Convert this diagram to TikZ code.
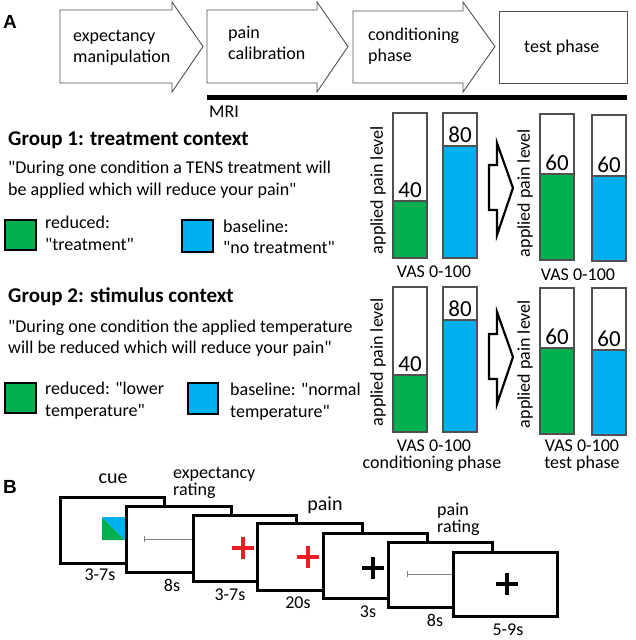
\documentclass[tikz,border=0pt]{standalone}
\usepackage{fontspec}
\setmainfont{Carlito}
\newfontfamily\panelfont{Liberation Sans}
\usetikzlibrary{positioning}
\definecolor{okgreen}{HTML}{00B050}
\definecolor{okblue}{HTML}{00B0F0}
\definecolor{crossred}{HTML}{EC1C24}
\definecolor{edgegray}{HTML}{505050}
\newcommand{\fs}[1]{\fontsize{#1}{#1}\selectfont}
\newcommand{\qt}{\textquotedbl}

\begin{document}
\begin{tikzpicture}[x=1pt,y=-1pt,inner sep=0pt,font=\fs{18}]
\tikzstyle{phase}=[draw=edgegray,line width=0.9pt,fill=white]
\tikzstyle{txt}=[anchor=base west]
\tikzstyle{grouphead}=[anchor=base west,font=\fs{21}\bfseries]
\tikzstyle{panel}=[font=\fs{19}\panelfont\bfseries]
\tikzstyle{keybox}=[draw=black,line width=2.6pt]
\tikzstyle{bar}=[draw=edgegray,line width=1.2pt]
\tikzstyle{num}=[anchor=south,inner sep=3.5pt,font=\fs{23}]
\tikzstyle{ylab}=[rotate=90]
\tikzstyle{hollow}=[draw=black,line width=2.2pt,fill=white,line join=miter]
\tikzstyle{screen}=[draw=black,line width=3pt,fill=white]
\tikzstyle{ratingline}=[draw=gray,line width=0.9pt]
\tikzstyle{fixcross}=[line width=4pt]
\tikzstyle{cuelab}=[font=\fs{20}]
\useasboundingbox (0,0) rectangle (636,640);

% panel A: order of the phases
\node[panel] (panA) at (10,22) {A};
\draw[phase] (60,10) -- (172,10) -- (172,2) -- (203,46.5) -- (172,92) -- (172,83) -- (60,83) -- cycle;
\draw[phase] (207,10) -- (317,10) -- (317,2) -- (348,46.5) -- (317,92) -- (317,83) -- (207,83) -- cycle;
\draw[phase] (353,11) -- (463,11) -- (463,2) -- (495,46.5) -- (463,92) -- (463,83) -- (353,83) -- cycle;
\draw[phase] (499,11) rectangle (627,83);
\node[txt] (expA) at (73,41.5) {expectancy};
\node[txt] (expB) at (73,62.5) {manipulation};
\node[txt] (calA) at (228,38) {pain};
\node[txt] (calB) at (228,59.5) {calibration};
\node[txt] (conA) at (368,40) {conditioning};
\node[txt] (conB) at (368,61.5) {phase};
\node[txt] (test) at (524,52) {test phase};
\draw[line width=5pt] (207,97.5) -- (627,97.5);
\node[txt] (mri) at (209,117) {MRI};

% group 1
\node[grouphead] (grpA) at (8,145) {Group 1: treatment context};
\node[txt] (quoA) at (8,173) {\qt During one condition a TENS treatment will};
\node[txt] (quoB) at (8,195) {be applied which will reduce your pain\qt};
\draw[keybox,fill=okgreen] (5,220) rectangle (36,250);
\node[txt] (redA) at (45,228) {reduced:};
\node[txt] (redB) at (45,250) {\qt treatment\qt};
\draw[keybox,fill=okblue] (182,220) rectangle (213,252);
\node[txt] (basA) at (223,232) {baseline:};
\node[txt] (basB) at (223,253) {\qt no treatment\qt};

\draw[bar] (393,113) rectangle (427,258);
\draw[bar,fill=okgreen] (393,201) rectangle (427,258);
\node[num] (n40a) at (410,201) {40};
\draw[bar] (443,113) rectangle (477,258);
\draw[bar,fill=okblue] (443,146) rectangle (477,258);
\node[num] (n80a) at (460,146) {80};
\node[ylab] (ylabA) at (378,190) {applied pain level};
\node (vasA) at (434,272) {VAS 0-100};
\draw[hollow] (489,165) -- (497,165) -- (497,143) -- (513,188) -- (497,235) -- (497,210) -- (489,210) -- cycle;
\draw[bar] (540,114) rectangle (574,260);
\draw[bar,fill=okgreen] (540,174) rectangle (574,260);
\node[num] (n60a) at (557,174) {60};
\draw[bar] (592,115) rectangle (626,261);
\draw[bar,fill=okblue] (592,176) rectangle (626,261);
\node[num] (n60b) at (609,176) {60};
\node[ylab] (ylabB) at (525,193) {applied pain level};
\node (vasB) at (578,275) {VAS 0-100};

% group 2
\node[grouphead] (grpB) at (8,302) {Group 2: stimulus context};
\node[txt] (quoC) at (8,332) {\qt During one condition the applied temperature};
\node[txt] (quoD) at (8,353) {will be reduced which will reduce your pain\qt};
\draw[keybox,fill=okgreen] (5,383) rectangle (36,413);
\node[txt] (redC) at (45,394) {reduced: \qt lower};
\node[txt] (redD) at (45,416) {temperature\qt};
\draw[keybox,fill=okblue] (188,383) rectangle (218,414);
\node[txt] (basC) at (230,395) {baseline: \qt normal};
\node[txt] (basD) at (230,417) {temperature\qt};

\draw[bar] (393,287) rectangle (427,432);
\draw[bar,fill=okgreen] (393,375) rectangle (427,432);
\node[num] (n40b) at (410,375) {40};
\draw[bar] (443,287) rectangle (477,432);
\draw[bar,fill=okblue] (443,320) rectangle (477,432);
\node[num] (n80b) at (460,320) {80};
\node[ylab] (ylabC) at (378,362) {applied pain level};
\node (vasC) at (434,446) {VAS 0-100};
\node (condC) at (432,464) {conditioning phase};
\draw[hollow] (489,334) -- (497,334) -- (497,312) -- (513,357) -- (497,404) -- (497,379) -- (489,379) -- cycle;
\draw[bar] (540,288) rectangle (574,434);
\draw[bar,fill=okgreen] (540,348) rectangle (574,434);
\node[num] (n60c) at (557,348) {60};
\draw[bar] (592,288) rectangle (626,435);
\draw[bar,fill=okblue] (592,350) rectangle (626,435);
\node[num] (n60d) at (609,350) {60};
\node[ylab] (ylabD) at (525,364) {applied pain level};
\node (vasD) at (582,446) {VAS 0-100};
\node (testD) at (582,464) {test phase};

% panel B: one trial
\node[panel] (panB) at (10,487) {B};
\draw[screen] (60,497) rectangle (164,563);
\fill[okgreen] (102,517) -- (102,540) -- (125,540) -- cycle;
\fill[okblue] (102,517) -- (125,517) -- (125,540) -- cycle;
\draw[screen] (126,506) rectangle (231,572);
\draw[ratingline] (144,539) -- (200,539);
\draw[ratingline] (144,536) -- (144,542);
\draw[screen] (193,515) rectangle (296,581);
\draw[fixcross,crossred] (232,548) -- (254,548) (243,537) -- (243,559);
\draw[screen] (257,523) rectangle (362,590);
\draw[fixcross,crossred] (297,557) -- (319,557) (308,546) -- (308,568);
\draw[screen] (323,533) rectangle (427,598);
\draw[fixcross] (362,568) -- (384,568) (373,557) -- (373,579);
\draw[screen] (388,542) rectangle (492,607);
\draw[ratingline] (407,574) -- (460,574);
\draw[ratingline] (407,571) -- (407,577);
\draw[screen] (453,552) rectangle (557,616);
\draw[fixcross] (496,584) -- (518,584) (507,573) -- (507,595);

\node[cuelab] (cue) at (113,479) {cue};
\node[txt] (expR) at (173,478) {expectancy};
\node[txt] (expS) at (173,495) {rating};
\node[cuelab] (pain) at (325,505) {pain};
\node[txt] (painR) at (437,515) {pain};
\node[txt] (painS) at (437,532) {rating};
\node (durA) at (100,575) {3-7s};
\node (durB) at (172,585) {8s};
\node (durC) at (230,595) {3-7s};
\node (durD) at (298,603) {20s};
\node (durE) at (368,612) {3s};
\node (durF) at (435,620) {8s};
\node (durG) at (508,630) {5-9s};
\end{tikzpicture}
\end{document}
